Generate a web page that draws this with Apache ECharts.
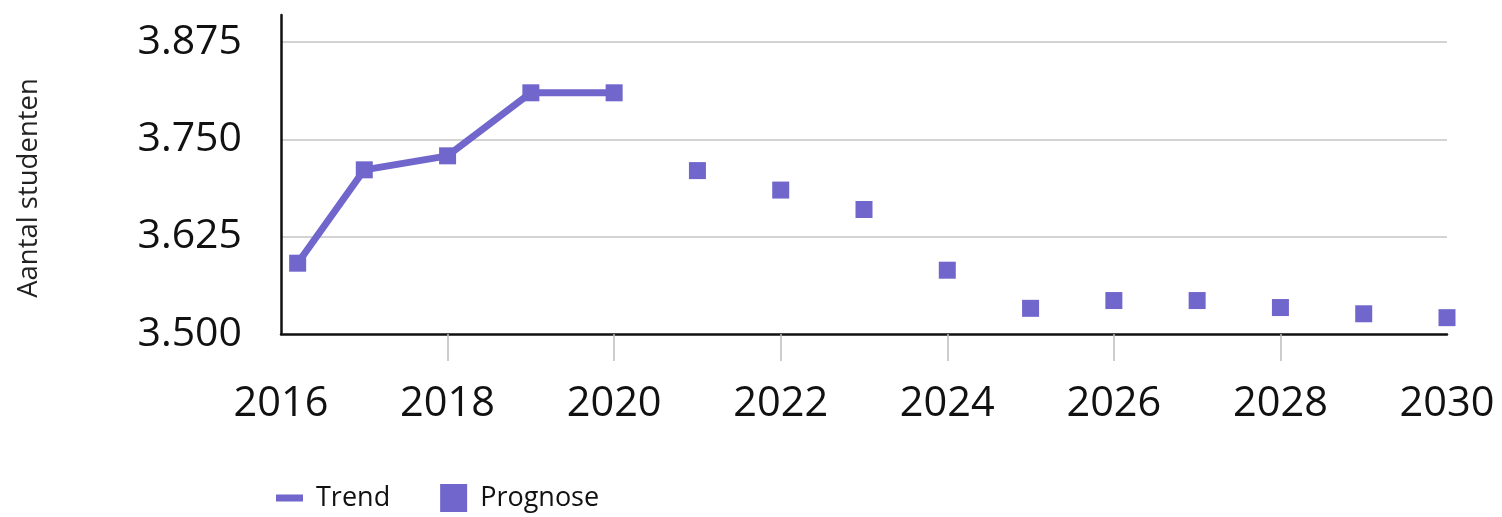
<!DOCTYPE html>
<html>
<head>
<meta charset="utf-8">
<title>Aantal studenten</title>
<script src="https://cdn.jsdelivr.net/npm/echarts@6/dist/echarts.min.js"></script>
<style>
  html, body { margin: 0; padding: 0; background: #ffffff; }
  #chart { width: 1502px; height: 517px; }
</style>
</head>
<body>
<div id="chart"></div>
<script>
// Realised student numbers (trend) and the forecast for the coming years
const trendYears = [2016.2, 2017, 2018, 2019, 2020];
const trendValues = [3591, 3711, 3729, 3810, 3810];
const prognoseYears = [2021, 2022, 2023, 2024, 2025, 2026, 2027, 2028, 2029, 2030];
const prognoseValues = [3710, 3685, 3660, 3582, 3533, 3543, 3543, 3534, 3526, 3521];
const xTickYears = [2018, 2020, 2022, 2024, 2026, 2028];
const yTicks = [3500, 3625, 3750, 3875];

const purple = '#7066cc';
const font = '"Open Sans", "Noto Sans", sans-serif';

// Dutch thousands separator: 3875 -> "3.875"
function nlNumber(v) {
  const thousands = Math.floor(v / 1000);
  const rest = String(Math.round(v % 1000)).padStart(3, '0');
  return thousands + '.' + rest;
}

const chart = echarts.init(document.getElementById('chart'), null, { renderer: 'canvas' });

chart.setOption({
  animation: false,
  backgroundColor: '#ffffff',
  textStyle: { fontFamily: font },
  grid: { left: 281, right: 55, top: 15, bottom: 183, containLabel: false },
  xAxis: {
    type: 'value',
    min: 2016,
    max: 2030,
    interval: 2,
    axisLine: { show: true, lineStyle: { color: '#111111', width: 2.5 } },
    axisTick: {
      show: true,
      length: 27,
      customValues: xTickYears,
      lineStyle: { color: '#bdbdbd', width: 1.5 }
    },
    splitLine: { show: false },
    axisLabel: {
      color: '#111111',
      fontSize: 41.5,
      fontFamily: font,
      margin: 49,
      formatter: v => String(v)
    }
  },
  yAxis: {
    type: 'value',
    min: 3500,
    max: 3910,
    interval: 125,
    axisLine: { show: true, lineStyle: { color: '#111111', width: 2.5 } },
    axisTick: { show: false },
    splitLine: {
      show: true,
      showMinLine: false,
      showMaxLine: false,
      lineStyle: { color: '#c4c4c4', width: 1.5 }
    },
    axisLabel: {
      color: '#111111',
      fontSize: 41,
      fontFamily: font,
      margin: 39,
      customValues: yTicks,
      formatter: v => nlNumber(v)
    }
  },
  legend: {
    left: 276,
    top: 484,
    padding: 0,
    itemWidth: 27,
    itemHeight: 28,
    itemGap: 50,
    textStyle: { color: '#111111', fontSize: 27, fontFamily: font, padding: [0, 0, 0, 8] },
    data: [
      { name: 'Trend', icon: 'path://M0,0h27v7h-27z', symbolKeepAspect: true, itemStyle: { color: purple, borderWidth: 0 } },
      { name: 'Prognose', icon: 'path://M0,0h27v28h-27z', symbolKeepAspect: true, itemStyle: { color: purple, borderWidth: 0 } }
    ]
  },
  graphic: [{
    type: 'text',
    x: 29,
    y: 188,
    rotation: Math.PI / 2,
    style: {
      text: 'Aantal studenten',
      fill: '#222222',
      fontSize: 27.5,
      fontFamily: font,
      align: 'center',
      verticalAlign: 'middle'
    }
  }],
  series: [
    {
      name: 'Trend',
      type: 'line',
      data: trendYears.map((y, i) => [y, trendValues[i]]),
      symbol: 'rect',
      symbolSize: 17,
      showAllSymbol: true,
      lineStyle: { color: purple, width: 7 },
      itemStyle: { color: purple, borderWidth: 0 },
      z: 3
    },
    {
      name: 'Prognose',
      type: 'scatter',
      data: prognoseYears.map((y, i) => [y, prognoseValues[i]]),
      symbol: 'rect',
      symbolSize: 17,
      itemStyle: { color: purple, borderWidth: 0, opacity: 1 },
      z: 3
    }
  ]
});
</script>
</body>
</html>
